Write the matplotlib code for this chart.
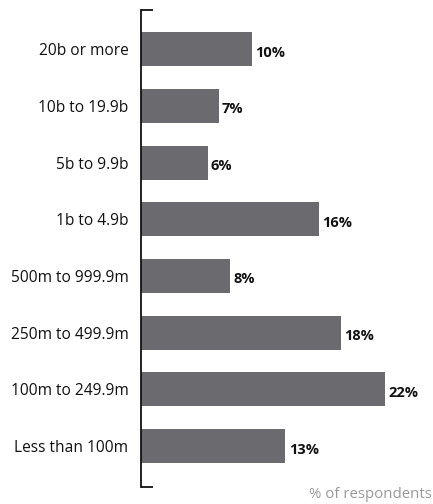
import matplotlib
matplotlib.use("Agg")
import matplotlib.pyplot as plt

categories = ["20b or more", "10b to 19.9b", "5b to 9.9b", "1b to 4.9b",
              "500m to 999.9m", "250m to 499.9m", "100m to 249.9m", "Less than 100m"]
values = [10, 7, 6, 16, 8, 18, 22, 13]

plt.rcParams["font.family"] = ["Open Sans", "DejaVu Sans"]

W, H = 433, 504
fig = plt.figure(figsize=(W / 100, H / 100), dpi=100)
left = 141 / W
ax = fig.add_axes([left, (H - 487) / H, 1 - left, (487 - 10) / H])

y = list(range(len(categories)))
bar_color = "#6b6b6f"
ax.barh(y, values, height=0.6, color=bar_color)
ax.set_xlim(0, 26.3)
ax.set_ylim(7.72, -0.69)

for yi, v in zip(y, values):
    ax.text(v + 0.3, yi + 0.06, f"{v}%", va="center", ha="left",
            fontsize=10.5, fontweight="bold", color="#111111")

ax.set_yticks(y)
ax.set_yticklabels(categories, fontsize=11.2, color="#111111")
ax.tick_params(axis="y", length=0, pad=9)
ax.set_xticks([])
for s in ["top", "right", "bottom"]:
    ax.spines[s].set_visible(False)
ax.spines["left"].set_linewidth(1.3)
ax.spines["left"].set_color("#111111")

# short end caps on the category axis
cap = 12 / (W - 141)
for yy in (0, 1):
    ax.plot([0, cap], [yy, yy], transform=ax.transAxes, color="#111111",
            lw=1.3, clip_on=False, solid_capstyle="butt")

fig.text(432 / W, 1 - 494 / H, "% of respondents", ha="right", va="center",
         fontsize=10.8, color="#9a9a9a")

fig.savefig("out.png", dpi=100)
